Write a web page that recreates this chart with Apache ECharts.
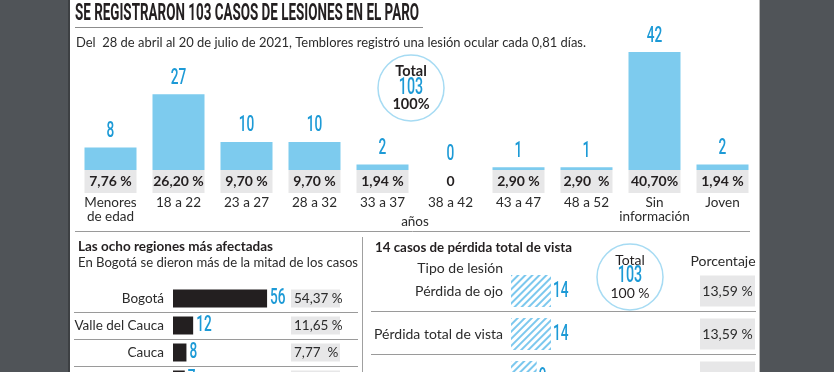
<!DOCTYPE html>
<html><head><meta charset="utf-8">
<script src="https://cdn.jsdelivr.net/npm/echarts@6/dist/echarts.min.js"></script>
<style>html,body{margin:0;padding:0;background:#fff}#c{width:834px;height:372px}</style>
</head><body><div id="c"></div>
<script>
// ---- data ----
const ageCategories = ['Menores\nde edad','18 a 22','23 a 27','28 a 32','33 a 37','38 a 42','43 a 47','48 a 52','Sin\ninformación','Joven'];
const ageCounts = [8,27,10,10,2,0,1,1,42,2];
const agePercents = ['7,76 %','26,20 %','9,70 %','9,70 %','1,94 %','0','2,90 %','2,90  %','40,70%','1,94 %'];
const regionNames = ['Bogotá','Valle del Cauca','Cauca',''];
const regionCounts = [56,12,8,7];
const regionPercents = ['54,37 %','11,65 %','7,77  %','6,80 %'];
const injuryTypes = ['Pérdida de ojo','Pérdida total de vista','Pérdida parcial de vista'];
const injuryCounts = [14,14,9];
const injuryPercents = ['13,59 %','13,59 %','8,74 %'];

// ---- styles ----
const BLUE='#1d9ad6', BAR='#7dcbee', BOX='#e7e7e8', INK='#231f20', TXT='#2b2b2b', DARK='#505458', RULE='#9a9a9a';
const FONT='Lato, "Noto Sans", sans-serif';
const NUMFONT='500 22px Roboto, sans-serif';
const NUMSCALE=0.62;
const total = ageCounts.reduce((a,b)=>a+b,0);

const cv=document.createElement('canvas').getContext('2d');
function fit(text,font,w){cv.font=font;return w/cv.measureText(text).width;}
function txt(text,x,y,font,fill,opts){
  opts=opts||{};
  const sx = opts.w ? fit(text,font,opts.w) : (opts.sx||1);
  return {type:'text', x:x, y:y, scaleX:sx, z:10,
    style:{text:text, x:0, y:0, font:font, fill:fill, align:opts.align||'left', verticalAlign:'middle'}};
}
function line(x1,y1,x2,y2,c,w){return {type:'line',z:10,shape:{x1,y1,x2,y2},style:{stroke:c,lineWidth:w||1}};}

// value labels drawn through the axes (custom series, condensed digits)
function valueLabels(xi, yi, values, horizontal, gap){
  return {type:'custom', xAxisIndex:xi, yAxisIndex:yi, silent:true, z:5,
    data: values.map((v,i)=>horizontal?[v,i]:[i,v]),
    renderItem:(params, api)=>{
      const v = horizontal ? api.value(0) : api.value(1);
      const p = api.coord([api.value(0), api.value(1)]);
      return {type:'text', x: horizontal ? p[0]+gap : p[0], y: horizontal ? p[1] : p[1]-gap,
        scaleX:NUMSCALE,
        style:{text:String(v), font:NUMFONT, fill:BLUE,
          align: horizontal?'left':'center', verticalAlign: horizontal?'middle':'bottom'}};
    }};
}

const chart=echarts.init(document.getElementById('c'));
const hidden={show:false};
const option={
  backgroundColor:'#fff',
  animation:false,
  grid:[
    {left:76.5, top:52, width:680, height:118, outerBoundsMode:'none'},
    {left:173, top:285, width:167, height:108, outerBoundsMode:'none'},
    {left:511, top:269.5, width:244, height:129, outerBoundsMode:'none'}
  ],
  xAxis:[
    {gridIndex:0, type:'category', data:ageCategories, axisLine:hidden, axisTick:hidden, splitLine:hidden,
     axisLabel:{margin:0, interval:0,
       formatter:(v,i)=>{
         const box = ageCounts[i]>0 ? '{p|'+agePercents[i]+'}' : '{z|'+agePercents[i]+'}';
         const ls=v.split('\n');
         return box+'\n'+ls.map((l,k)=>'{c'+k+'|'+l+'}').join('\n');
       },
       rich:{
         p:{width:52,height:23,lineHeight:23,backgroundColor:BOX,align:'center',fontFamily:FONT,fontWeight:'bold',fontSize:14,color:INK},
         z:{width:52,height:23,lineHeight:23,align:'center',fontFamily:FONT,fontWeight:'bold',fontSize:14,color:INK},
         c0:{fontFamily:FONT,fontSize:13.5,lineHeight:20,color:TXT,align:'center'},
         c1:{fontFamily:FONT,fontSize:13.5,lineHeight:8,color:TXT,align:'center'}
       }}},
    {gridIndex:1, type:'value', min:0, max:167/1.68, show:false},
    {gridIndex:2, type:'value', min:0, max:244/2.857, show:false}
  ],
  yAxis:[
    {gridIndex:0, type:'value', min:0, max:42, show:false},
    {gridIndex:1, type:'category', data:regionNames, inverse:true, axisLine:hidden, axisTick:hidden,
     axisLabel:{margin:9, fontFamily:FONT, fontSize:13.5, color:TXT}},
    {gridIndex:1, type:'category', data:regionPercents, inverse:true, position:'right', axisLine:hidden, axisTick:hidden,
     axisLabel:{inside:true, margin:0, formatter:v=>'{b|'+v+'}',
       rich:{b:{width:46,height:18,lineHeight:18,backgroundColor:BOX,align:'left',padding:[0,0,0,3],fontFamily:FONT,fontSize:13.5,color:TXT}}}},
    {gridIndex:2, type:'category', data:injuryTypes, inverse:true, axisLine:hidden, axisTick:hidden,
     axisLabel:{margin:8, fontFamily:FONT, fontSize:14, color:TXT}},
    {gridIndex:2, type:'category', data:injuryPercents, inverse:true, position:'right', axisLine:hidden, axisTick:hidden,
     axisLabel:{inside:true, margin:0, formatter:v=>'{b|'+v+'}',
       rich:{b:{width:55,height:31,lineHeight:31,backgroundColor:BOX,align:'center',fontFamily:FONT,fontSize:14,color:TXT}}}}
  ],
  series:[
    {type:'bar', xAxisIndex:0, yAxisIndex:0, data:ageCounts, barWidth:52, itemStyle:{color:BAR}},
    {type:'bar', xAxisIndex:1, yAxisIndex:1, data:regionCounts, barWidth:18, itemStyle:{color:INK}},
    {type:'bar', xAxisIndex:2, yAxisIndex:3, data:injuryCounts, barWidth:32,
     itemStyle:{color:'#fff', decal:{symbol:'rect', symbolSize:1, color:'#7cc8ee', dashArrayX:[1,0], dashArrayY:[2,3], rotation:-Math.PI/4}}},
    valueLabels(0,0,ageCounts,false,5),
    valueLabels(1,1,regionCounts,true,3),
    valueLabels(2,3,injuryCounts,true,2)
  ],
  graphic:[
    {type:'rect', z:10, shape:{x:0,y:0,width:69,height:372}, style:{fill:DARK}},
    {type:'rect', z:10, shape:{x:68,y:0,width:2,height:372}, style:{fill:'#3d4043'}},
    {type:'rect', z:10, shape:{x:760,y:0,width:74,height:372}, style:{fill:DARK}},
    line(759.5,0,759.5,372,'#b8b8b8',1),
    txt('SE REGISTRARON 103 CASOS DE LESIONES EN EL PARO',75,14,'bold 24px Roboto, sans-serif',INK,{w:344}),
    line(75,27.5,423,27.5,'#8c8c8c',1),
    txt('Del  28 de abril al 20 de julio de 2021, Temblores registró una lesión ocular cada 0,81 días.',76,42,'14px '+FONT,TXT,{w:510}),
    {type:'circle', z:10, shape:{cx:411,cy:88,r:33}, style:{fill:'#fff',stroke:'#a6dbf3',lineWidth:1.5}},
    txt('Total',411,71,'bold 14.5px '+FONT,INK,{align:'center'}),
    txt(String(total),411,88,'500 23px Roboto, sans-serif',BLUE,{align:'center',sx:NUMSCALE}),
    txt('100%',411,104,'bold 14.5px '+FONT,INK,{align:'center'}),
    txt('años',415,222,'13.5px '+FONT,TXT,{align:'center'}),
    line(75,231.5,750,231.5,RULE,1),
    line(362.5,237,362.5,372,'#a0a0a0',1),
    txt('Las ocho regiones más afectadas',78,247,'bold 13.5px '+FONT,INK,{w:195}),
    txt('En Bogotá se dieron más de la mitad de los casos',78,263,'13.5px '+FONT,TXT,{w:280}),
    line(74,312.5,358,312.5,RULE,1),
    line(74,339.5,358,339.5,RULE,1),
    line(74,366.5,358,366.5,RULE,1),
    txt('14 casos de pérdida total de vista',375,248,'bold 13.5px '+FONT,INK,{w:197}),
    txt('Tipo de lesión',503,268,'14px '+FONT,TXT,{align:'right'}),
    txt('Porcentaje',723,261,'14px '+FONT,TXT,{align:'center'}),
    {type:'circle', z:10, shape:{cx:630,cy:277,r:33}, style:{fill:'#fff',stroke:'#a6dbf3',lineWidth:1.5}},
    txt('Total',630,260,'14px '+FONT,INK,{align:'center'}),
    txt(String(total),630,276,'500 23px Roboto, sans-serif',BLUE,{align:'center',sx:NUMSCALE}),
    txt('100 %',630,293,'14px '+FONT,INK,{align:'center'}),
    line(371,311.5,756,311.5,RULE,1),
    line(371,354.5,756,354.5,RULE,1)
  ]
};
chart.setOption(option);
</script></body></html>
